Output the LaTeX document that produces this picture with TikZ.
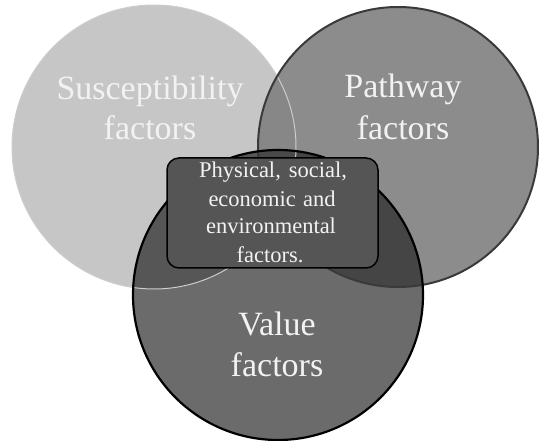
\documentclass[tikz,border=0pt]{standalone}
\usepackage{fontspec}
\setmainfont{Liberation Serif}
\definecolor{lfill}{HTML}{C6C6C6}
\definecolor{lline}{HTML}{CDCDCD}
\definecolor{rfill}{HTML}{8C8C8C}
\definecolor{rline}{HTML}{3A3A3A}
\definecolor{bfill}{HTML}{6B6B6B}
\definecolor{lrfill}{HTML}{878787}
\definecolor{lbfill}{HTML}{565656}
\definecolor{rbfill}{HTML}{454545}
\definecolor{lrbfill}{HTML}{4A4A4A}
\definecolor{boxfill}{HTML}{555555}
\definecolor{labtext}{HTML}{F2F2F2}
\tikzset{
  biglab/.style={anchor=base, text=labtext, inner sep=0pt, font=\fontsize{34}{40}\selectfont},
  boxlab/.style={anchor=base, text=labtext, inner sep=0pt, font=\fontsize{22.5}{28}\selectfont},
  factorbox/.style={draw=black, line width=1.5pt, fill=boxfill, rounded corners=12pt, inner sep=0pt}
}
\begin{document}
\begin{tikzpicture}[x=1pt,y=-1pt]
\useasboundingbox[fill=white] (0,0) rectangle (539,441);
\coordinate (cl) at (154,147);
\coordinate (cr) at (398,147);
\coordinate (cb) at (278,295);
% fills
\fill[lfill] (cl) circle[radius=142pt];
\fill[rfill] (cr) circle[radius=140pt];
\fill[bfill] (cb) circle[radius=145pt];
\begin{scope}
  \clip (cl) circle[radius=142pt];
  \fill[lrfill] (cr) circle[radius=140pt];
  \fill[lbfill] (cb) circle[radius=145pt];
  \clip (cr) circle[radius=140pt];
  \fill[lrbfill] (cb) circle[radius=145pt];
\end{scope}
\begin{scope}
  \clip (cr) circle[radius=140pt];
  \clip (cb) circle[radius=145pt];
  \fill[rbfill] (cb) circle[radius=145pt];
  \clip (cl) circle[radius=142pt];
  \fill[lrbfill] (cb) circle[radius=145pt];
\end{scope}
% outlines
\draw[lline, line width=1pt] (cl) circle[radius=142pt];
\draw[rline, line width=2pt] (cr) circle[radius=140pt];
\draw[black, line width=2.2pt] (cb) circle[radius=145pt];
% labels
\node[biglab] (sus1) at (150,100) {Susceptibility};
\node[biglab] (sus2) at (150,140) {factors};
\node[biglab] (path1) at (403,98) {Pathway};
\node[biglab] (path2) at (403,140) {factors};
\node[biglab] (val1) at (277,335) {Value};
\node[biglab] (val2) at (277,377) {factors};
% central box
\node[factorbox, minimum width=211pt, minimum height=110pt] (box) at (272.5,213) {};
\node[boxlab] (t1) at (273,178) {\makebox[148pt][s]{Physical, social,}};
\node[boxlab] (t2) at (272,207) {\makebox[127pt][s]{economic and}};
\node[boxlab] (t3) at (271,234) {environmental};
\node[boxlab] (t4) at (270,262) {factors.};
\end{tikzpicture}
\end{document}
